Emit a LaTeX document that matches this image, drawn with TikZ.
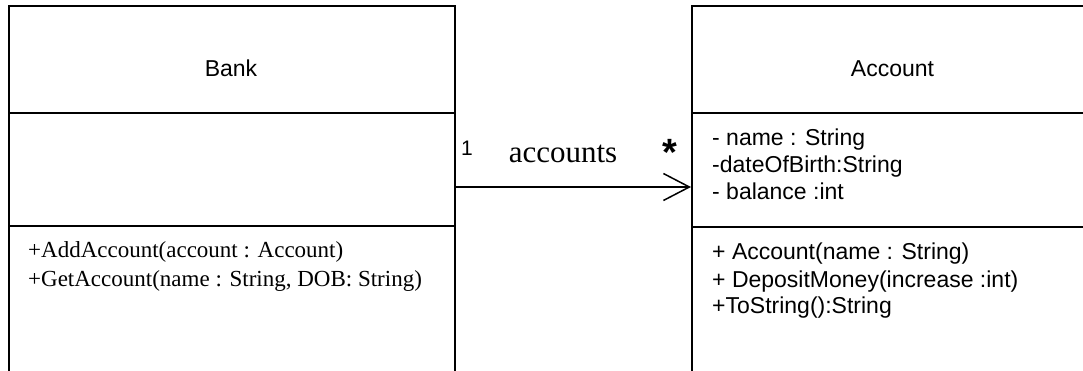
\documentclass[tikz,border=0pt]{standalone}
\usepackage{fontspec}
\usetikzlibrary{arrows.meta}
\newfontfamily\arialf{Liberation Sans}
\newfontfamily\tnrf{Liberation Serif}
\begin{document}
\begin{tikzpicture}[x=1pt,y=-1pt,
  classbox/.style={draw,line width=1.7pt,rectangle,inner sep=0pt,anchor=north west},
  divider/.style={line width=1.7pt},
  sanstext/.style={font=\arialf\fontsize{23}{27.5}\selectfont,inner sep=0pt},
  seriftext/.style={font=\tnrf\fontsize{23}{27.5}\selectfont,inner sep=0pt},
  assoc/.style={line width=1.5pt,-{Straight Barb[length=26pt,width=27pt,line width=1.5pt]}}
]
\useasboundingbox (0,0) rectangle (1083,371);
\clip (0,0) rectangle (1083,371);
% Bank class
\node[classbox,minimum width=446pt,minimum height=380pt] (bank) at (8,5) {};
\draw[divider] (bank.west |- 0,113) -- (bank.east |- 0,113);
\draw[divider] (bank.west |- 0,226) -- (bank.east |- 0,226);
\node[sanstext,anchor=base] (bankname) at (231,77) {Bank};
\node[seriftext,anchor=base west] (bm1) at (28,258) {+AddAccount(account : Account)};
\node[seriftext,anchor=base west] (bm2) at (28,286) {+GetAccount(name : String, DOB: String)};
% Account class
\node[classbox,minimum width=410pt,minimum height=380pt] (account) at (691,5) {};
\draw[divider] (account.west |- 0,113) -- (account.east |- 0,113);
\draw[divider] (account.west |- 0,227) -- (account.east |- 0,227);
\node[sanstext,anchor=base] (accname) at (892.5,77) {Account};
\node[sanstext,anchor=base west] (aa1) at (712,146) {- name : String};
\node[sanstext,anchor=base west] (aa2) at (712,173) {-dateOfBirth:String};
\node[sanstext,anchor=base west] (aa3) at (712,200) {- balance :int};
\node[sanstext,anchor=base west] (am1) at (712,259) {+ Account(name : String)};
\node[sanstext,anchor=base west] (am2) at (712,287) {+ DepositMoney(increase :int)};
\node[sanstext,anchor=base west] (am3) at (712,313) {+ToString():String};
% Association
\draw[assoc] (bank.east |- 0,187) -- (account.west |- 0,187);
\node[font=\arialf\fontsize{21}{24}\selectfont,inner sep=0pt,anchor=base west] (mult1) at (461,156) {1};
\node[seriftext,font=\tnrf\fontsize{31}{36}\selectfont,anchor=base] (assocname) at (563,163) {accounts};
\node[font=\arialf\bfseries\fontsize{38}{40}\selectfont,inner sep=0pt] (multstar) at (669.5,152) {*};
\end{tikzpicture}
\end{document}
